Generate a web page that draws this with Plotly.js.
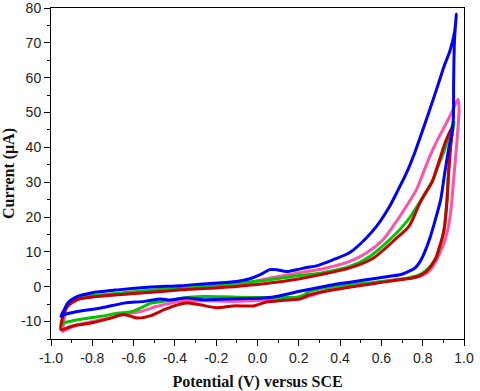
<!DOCTYPE html>
<html>
<head>
<meta charset="utf-8">
<script src="https://cdn.plot.ly/plotly-3.0.1.min.js"></script>
<style>html,body{margin:0;padding:0;background:#fff;}#chart{width:480px;height:391px;}</style>
</head>
<body>
<div id="chart"></div>
<script>
// Potential (V) and current (µA) for each voltammogram loop
const blueX = [-0.952,-0.935,-0.919,-0.871,-0.806,-0.677,-0.516,-0.371,-0.263,-0.101,-0.037,0.011,0.060,0.092,0.140,0.189,0.237,0.286,0.366,0.447,0.527,0.576,0.640,0.681,0.721,0.761,0.801,0.834,0.874,0.906,0.931,0.955,0.963,
  0.954,0.950,0.948,0.940,0.925,0.905,0.887,0.860,0.835,0.810,0.790,0.765,0.740,0.700,0.640,0.527,0.366,0.205,0.060,-0.101,-0.263,-0.343,-0.424,-0.468,-0.548,-0.645,-0.758,-0.871,-0.936,-0.952];
const blueY = [-8.5,-6.5,-4.7,-2.8,-1.8,-0.9,-0.1,0.3,0.8,1.5,2.3,3.4,4.9,4.9,4.4,4.9,5.5,6.0,7.75,9.8,14.0,17.3,23.1,27.8,32.6,38.4,45.1,50.8,57.9,63.7,67.5,73.3,78.3,
  70.9,59.4,47.9,44.0,39.3,32.0,25.0,19.0,14.0,10.0,7.5,5.5,4.6,3.6,3.0,2.0,0.6,-1.3,-3.1,-3.45,-3.7,-3.2,-3.8,-3.5,-4.2,-4.7,-6.1,-7.1,-8.0,-8.5];

const pinkX = [-0.944,-0.935,-0.920,-0.871,-0.806,-0.677,-0.516,-0.371,-0.101,0.060,0.205,0.334,0.447,0.527,0.608,0.656,0.721,0.769,0.802,0.835,0.866,0.906,0.939,0.971,
  0.976,0.970,0.962,0.950,0.940,0.930,0.920,0.906,0.885,0.866,0.845,0.826,0.786,0.740,0.689,0.527,0.366,0.221,0.060,-0.101,-0.263,-0.371,-0.419,-0.484,-0.565,-0.645,-0.758,-0.871,-0.944];
const pinkY = [-13.2,-9.0,-5.5,-3.5,-2.9,-2.2,-1.5,-0.8,0.4,2.5,4.0,5.4,7.3,9.7,13.5,17.3,23.1,27.8,32.6,37.5,41.5,46.0,49.9,53.8,
  51.0,45.0,39.0,31.0,24.0,19.0,16.0,13.0,10.0,7.5,5.5,4.2,3.0,2.5,2.2,0.8,-0.5,-3.2,-3.7,-4.2,-4.0,-4.2,-4.7,-5.6,-7.1,-8.0,-9.5,-10.9,-12.8];

const greenX = [-0.948,-0.940,-0.920,-0.880,-0.806,-0.677,-0.516,-0.371,-0.101,0.060,0.205,0.302,0.447,0.544,0.640,0.729,0.802,0.850,0.874,0.906,0.931,0.952,
  0.940,0.930,0.922,0.918,0.912,0.905,0.890,0.870,0.845,0.815,0.780,0.720,0.650,0.527,0.366,0.300,0.253,0.220,0.189,0.060,-0.101,-0.263,-0.371,-0.435,-0.516,-0.565,-0.613,-0.677,-0.758,-0.871,-0.936,-0.948];
const greenY = [-11.0,-8.0,-5.0,-3.3,-2.6,-1.9,-1.0,-0.4,1.0,2.0,3.2,3.9,5.8,8.7,13.5,19.2,25.9,30.7,34.5,39.3,44.1,47.3,
  43.0,38.0,30.0,25.0,21.0,17.0,13.0,9.0,6.5,4.6,3.3,2.4,1.8,1.05,0.1,-0.6,-1.3,-2.5,-3.0,-3.1,-3.0,-2.8,-3.3,-4.0,-4.7,-6.1,-7.2,-7.6,-8.5,-9.5,-10.4,-11.0];

const redX = [-0.952,-0.945,-0.930,-0.919,-0.871,-0.806,-0.677,-0.516,-0.371,-0.101,0.060,0.205,0.302,0.447,0.560,0.665,0.735,0.786,0.820,0.845,0.860,0.882,0.914,0.944,
  0.935,0.925,0.918,0.914,0.906,0.895,0.882,0.866,0.850,0.818,0.786,0.750,0.689,0.527,0.366,0.253,0.205,0.124,0.044,-0.021,-0.118,-0.198,-0.279,-0.343,-0.387,-0.452,-0.516,-0.581,-0.613,-0.653,-0.710,-0.806,-0.903,-0.952];
const redY = [-12.3,-9.0,-6.5,-5.6,-3.7,-3.0,-2.3,-1.6,-0.9,0.1,1.05,2.3,3.4,5.4,8.2,13.5,17.5,24.0,27.5,30.0,32.5,36.5,42.2,45.8,
  40.0,32.0,25.0,22.0,17.3,14.0,11.6,8.5,6.8,4.4,3.2,2.5,2.0,0.6,-0.9,-2.3,-3.5,-3.9,-4.4,-5.5,-5.5,-6.0,-5.2,-4.7,-5.2,-6.6,-8.3,-9.0,-8.5,-8.0,-9.0,-10.4,-11.4,-12.3];

const xTickVals = [-1.0,-0.8,-0.6,-0.4,-0.2,0.0,0.2,0.4,0.6,0.8,1.0];
const xTickText = ['-1.0','-0.8','-0.6','-0.4','-0.2','0.0','0.2','0.4','0.6','0.8','1.0'];
const yTickVals = [-10,0,10,20,30,40,50,60,70,80];
const yTickText = ['-10','0','10','20','30','40','50','60','70','80'];

function loop(x, y, color) {
  return {x: x, y: y, type: 'scatter', mode: 'lines', cliponaxis: false,
          line: {color: color, width: 3, shape: 'spline', smoothing: 0.8},
          hoverinfo: 'skip', showlegend: false};
}

const data = [
  loop(pinkX, pinkY, '#FF52A8'),
  loop(greenX, greenY, '#00C800'),
  loop(redX, redY, '#C80000'),
  loop(blueX, blueY, '#0000FF')
];

const tickFont = {family: 'Liberation Sans, Arial, sans-serif', size: 14, color: '#222'};
const titleFont = {family: 'Liberation Serif, Times New Roman, serif', size: 16, color: '#111', weight: 'bold'};

const layout = {
  width: 480, height: 391,
  margin: {l: 51, r: 16, t: 8, b: 52, pad: 0},
  paper_bgcolor: '#fff', plot_bgcolor: '#fff',
  xaxis: {
    range: [-1, 1], tickmode: 'array', tickvals: xTickVals, ticktext: xTickText,
    ticks: 'outside', ticklen: 6, tickwidth: 1, tickcolor: '#000',
    showline: true, linecolor: '#000', linewidth: 1, mirror: true,
    showgrid: false, zeroline: false, tickfont: tickFont, ticklabeloverflow: 'allow',
    minor: {tick0: -1, dtick: 0.1, ticks: 'outside', ticklen: 3, tickwidth: 1, tickcolor: '#000', showgrid: false},
    title: {text: 'Potential (V) versus SCE', font: titleFont, standoff: 12}
  },
  yaxis: {
    range: [-15, 80], tickmode: 'array', tickvals: yTickVals, ticktext: yTickText,
    ticks: 'outside', ticklen: 6, tickwidth: 1, tickcolor: '#000',
    showline: true, linecolor: '#000', linewidth: 1, mirror: true,
    showgrid: false, zeroline: false, tickfont: tickFont, ticklabeloverflow: 'allow',
    minor: {tick0: -15, dtick: 5, ticks: 'outside', ticklen: 3, tickwidth: 1, tickcolor: '#000', showgrid: false},
    title: {text: 'Current (μA)', font: titleFont, standoff: 8}
  }
};

Plotly.newPlot('chart', data, layout, {staticPlot: true, displayModeBar: false});
</script>
</body>
</html>
